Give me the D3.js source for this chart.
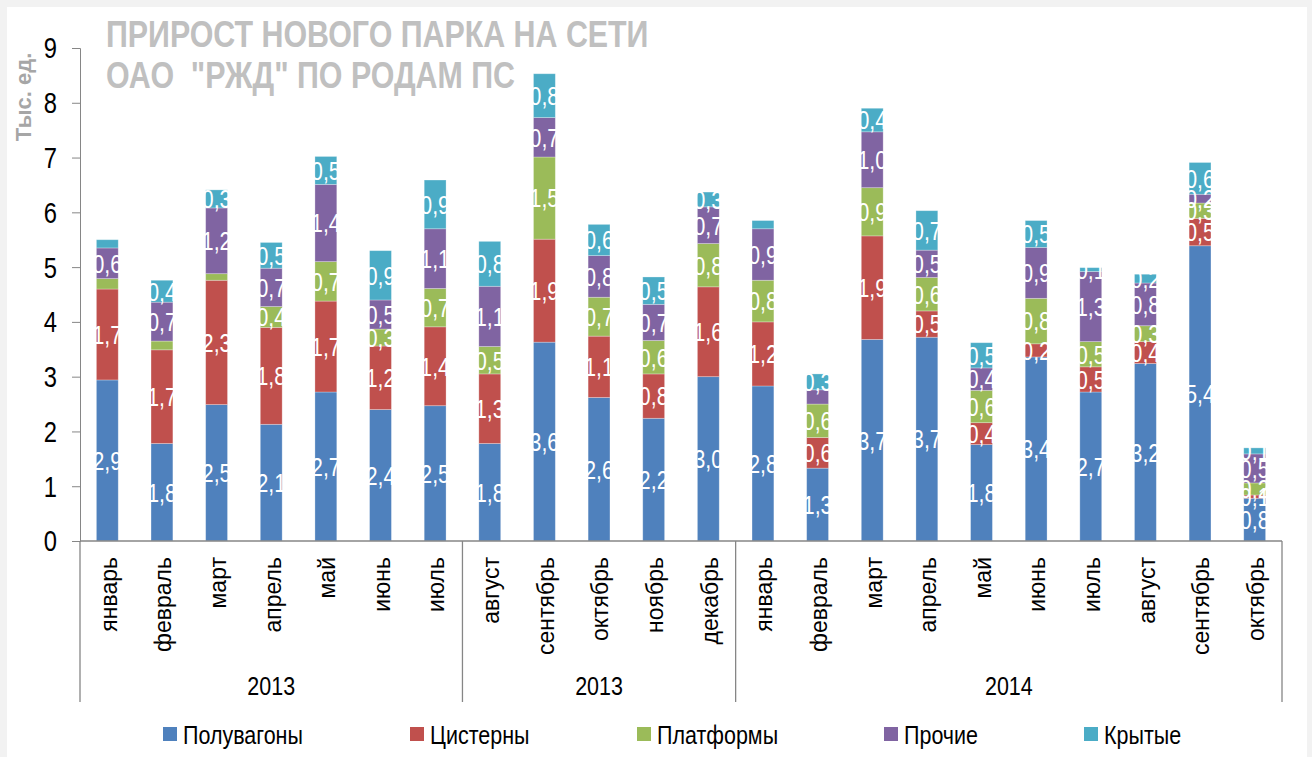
<!DOCTYPE html>
<html>
<head>
<meta charset="utf-8">
<script src="https://cdn.jsdelivr.net/npm/d3@7"></script>
<style>
  html, body { margin: 0; padding: 0; background: #f2f2f2; }
  svg { display: block; }
  text { font-family: "Liberation Sans", Arial, sans-serif; }
</style>
</head>
<body>
<div id="chart"></div>
<script>
// данные: прирост нового парка по родам ПС, тыс. ед.
const months = ["январь", "февраль", "март", "апрель", "май", "июнь", "июль",
  "август", "сентябрь", "октябрь", "ноябрь", "декабрь",
  "январь", "февраль", "март", "апрель", "май", "июнь", "июль", "август", "сентябрь", "октябрь"];
const groups = [
  { label: "2013", from: 0, to: 7 },
  { label: "2013", from: 7, to: 12 },
  { label: "2014", from: 12, to: 22 }
];
const seriesNames = ["Полувагоны", "Цистерны", "Платформы", "Прочие", "Крытые"];
const colors = ["#4f81bd", "#c0504d", "#9bbb59", "#8064a2", "#4bacc6"];

const poluvagony = [2.94, 1.78, 2.49, 2.13, 2.72, 2.40, 2.47, 1.78, 3.63, 2.62, 2.24, 3.00,
  2.83, 1.33, 3.68, 3.72, 1.76, 3.36, 2.72, 3.24, 5.39, 0.78];
const cisterny = [1.66, 1.71, 2.27, 1.77, 1.66, 1.16, 1.44, 1.27, 1.88, 1.12, 0.81, 1.64,
  1.17, 0.56, 1.89, 0.48, 0.40, 0.24, 0.46, 0.40, 0.50, 0.06];
const platformy = [0.19, 0.16, 0.12, 0.38, 0.72, 0.31, 0.70, 0.50, 1.50, 0.71, 0.61, 0.79,
  0.76, 0.61, 0.88, 0.61, 0.59, 0.83, 0.46, 0.29, 0.28, 0.22];
const prochie = [0.56, 0.71, 1.20, 0.70, 1.41, 0.53, 1.09, 1.10, 0.72, 0.76, 0.66, 0.67,
  0.94, 0.26, 1.02, 0.50, 0.41, 0.93, 1.28, 0.78, 0.16, 0.53];
const krytye = [0.15, 0.40, 0.33, 0.47, 0.51, 0.90, 0.89, 0.82, 0.80, 0.57, 0.50, 0.27,
  0.15, 0.29, 0.43, 0.72, 0.46, 0.49, 0.07, 0.16, 0.58, 0.11];
const seriesValues = [poluvagony, cisterny, platformy, prochie, krytye];

// подписи, которых нет на исходной диаграмме: [месяц, ряд]
const hiddenLabels = [[0, 2], [1, 2], [2, 2], [0, 4], [12, 4], [13, 3]];
const yTicks = [0, 1, 2, 3, 4, 5, 6, 7, 8, 9];

// сжатие шрифта по горизонтали (как в оригинале)
const SX = 0.82;

const W = 1312, H = 757;
const svg = d3.select("#chart").append("svg").attr("width", W).attr("height", H);

svg.append("rect").attr("x", 7).attr("y", 7).attr("width", 1300).attr("height", H - 7).attr("fill", "#fff");

const x0 = 80, x1 = 1282, yTop = 48, yBottom = 541;
const x = d3.scaleBand().domain(d3.range(months.length)).range([x0, x1])
  .paddingInner(0.6).paddingOuter(0.3);
const y = d3.scaleLinear().domain([0, 9]).range([yBottom, yTop]);

// таблица для стека
const table = months.map((m, i) => {
  const row = { i: i };
  seriesNames.forEach((s, k) => { row[s] = seriesValues[k][i]; });
  return row;
});
const stacked = d3.stack().keys(seriesNames)(table);

function ctext(sel, tx, ty, sx, rot) {
  return sel.append("g")
    .attr("transform", `translate(${tx},${ty}) scale(${sx},1)` + (rot ? ` rotate(${rot})` : ""))
    .append("text");
}

// столбцы
const layers = svg.selectAll(".layer").data(stacked).enter().append("g")
  .attr("class", "layer").attr("fill", (d, k) => colors[k]);

layers.selectAll("rect").data(d => d).enter().append("rect")
  .attr("x", d => x(d.data.i))
  .attr("y", d => y(d[1]))
  .attr("width", x.bandwidth())
  .attr("height", d => y(d[0]) - y(d[1]))
  .attr("stroke", "rgba(255,255,255,0.35)")
  .attr("stroke-width", 0.8);

// подписи данных
const hidden = new Set(hiddenLabels.map(h => h[0] + "_" + h[1]));
stacked.forEach((layer, k) => {
  layer.forEach(d => {
    if (hidden.has(d.data.i + "_" + k)) return;
    const v = d[1] - d[0];
    const cx = x(d.data.i) + x.bandwidth() / 2;
    const cy = (y(d[0]) + y(d[1])) / 2;
    ctext(svg, cx, cy, SX)
      .attr("text-anchor", "middle")
      .attr("dy", "0.36em")
      .attr("fill", "#fff")
      .attr("font-size", 26)
      .text(v.toFixed(1).replace(".", ","));
  });
});

// ось Y
const yAxis = svg.append("g").attr("transform", `translate(${x0},0)`)
  .call(d3.axisLeft(y).tickValues(yTicks).tickSize(8).tickFormat(d => ""));
yAxis.select(".domain").attr("stroke", "#868686");
yAxis.selectAll(".tick line").attr("stroke", "#868686");
yTicks.forEach(t => {
  ctext(svg, 57, y(t), SX)
    .attr("text-anchor", "end")
    .attr("dy", "0.36em")
    .attr("font-size", 29)
    .attr("fill", "#000")
    .text(t);
});

// ось X и разделители групп
svg.append("line").attr("x1", x0).attr("x2", x1).attr("y1", yBottom).attr("y2", yBottom)
  .attr("stroke", "#868686").attr("stroke-width", 1.3);
const step = x.step();
const sepX = [0, 7, 12, 22].map(k => x0 + k * step);
sepX.forEach(sx => {
  svg.append("line").attr("x1", sx).attr("x2", sx).attr("y1", yBottom).attr("y2", 702)
    .attr("stroke", "#868686").attr("stroke-width", 1.3);
});

months.forEach((m, i) => {
  ctext(svg, x(i) + x.bandwidth() / 2 + 1, 557, 1, -90)
    .attr("text-anchor", "end")
    .attr("dy", "0.36em")
    .attr("font-size", 23)
    .attr("fill", "#000")
    .text(m);
});

groups.forEach(g => {
  ctext(svg, (x0 + g.from * step + x0 + g.to * step) / 2, 695, 0.86)
    .attr("text-anchor", "middle")
    .attr("font-size", 25)
    .attr("fill", "#000")
    .text(g.label);
});

// заголовок
ctext(svg, 106, 47, 0.81).attr("font-size", 37.5).attr("font-weight", "bold").attr("fill", "#c0c0c0")
  .text("ПРИРОСТ НОВОГО ПАРКА НА СЕТИ");
ctext(svg, 106, 88, 0.81).attr("font-size", 37.5).attr("font-weight", "bold").attr("fill", "#c0c0c0")
  .attr("xml:space", "preserve").style("white-space", "pre")
  .text("ОАО  \"РЖД\" ПО РОДАМ ПС");

// подпись оси Y
ctext(svg, 23, 97, 1, -90).attr("text-anchor", "middle").attr("dy", "0.36em")
  .attr("font-size", 22).attr("font-weight", "bold").attr("fill", "#a6a6a6")
  .text("Тыс. ед.");

// легенда
const legendX = [163, 410, 637, 884, 1084];
seriesNames.forEach((s, k) => {
  svg.append("rect").attr("x", legendX[k]).attr("y", 727).attr("width", 14).attr("height", 14)
    .attr("fill", colors[k]);
  ctext(svg, legendX[k] + 20, 744, 0.86).attr("font-size", 25).attr("fill", "#000").text(s);
});
</script>
</body>
</html>
